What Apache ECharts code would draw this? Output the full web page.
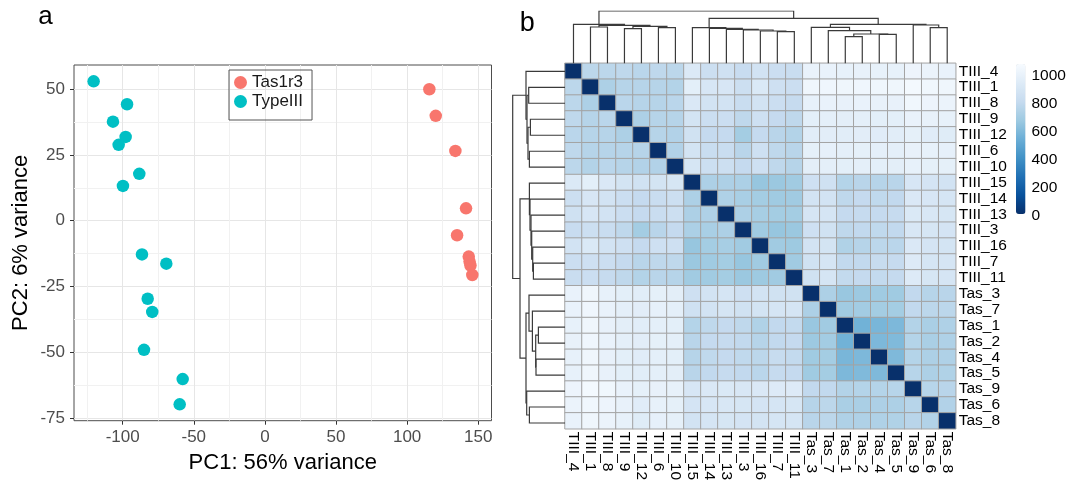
<!DOCTYPE html>
<html>
<head>
<meta charset="utf-8">
<script src="https://cdn.jsdelivr.net/npm/echarts@6/dist/echarts.min.js"></script>
<style>
    html, body { margin: 0; padding: 0; background: #fff; }
    #main { width: 1081px; height: 483px; }
</style>
</head>
<body>
<div id="main"></div>
<script>
    // ---- 数据 ----
    // PCA 散点 (PC1, PC2)
    const tasX = [115.6, 120.1, 133.9, 141.4, 135.1, 143.3, 143.9, 144.5, 145.8];
    const tasY = [49.9, 39.8, 26.5, 4.7, -5.5, -13.6, -15.5, -17.0, -20.6];
    const typeX = [-120.4, -96.9, -106.8, -97.9, -102.8, -88.3, -99.8, -86.4, -69.3, -82.4, -79.2, -85.0, -57.8, -59.9];
    const typeY = [52.9, 44.2, 37.6, 31.8, 28.8, 17.8, 13.2, -12.8, -16.3, -29.6, -34.6, -49.0, -60.1, -69.7];

    // 坐标轴刻度
    const pcaXTicks = [-100, -50, 0, 50, 100, 150];
    const pcaXMinor = [-125, -75, -25, 25, 75, 125];
    const pcaYTicks = [-75, -50, -25, 0, 25, 50];
    const pcaYMinor = [-62.5, -37.5, -12.5, 12.5, 37.5];

    // 热图样本(聚类后顺序)
    const samples = ['TIII_4', 'TIII_1', 'TIII_8', 'TIII_9', 'TIII_12', 'TIII_6', 'TIII_10',
        'TIII_15', 'TIII_14', 'TIII_13', 'TIII_3', 'TIII_16', 'TIII_7', 'TIII_11',
        'Tas_3', 'Tas_7', 'Tas_1', 'Tas_2', 'Tas_4', 'Tas_5', 'Tas_9', 'Tas_6', 'Tas_8'];

    // 距离矩阵下三角 (第 i 行: 与第 0..i-1 列的距离), 对角线为 0
    const distLower = [
        [],
        [780],
        [780, 730],
        [790, 760, 775],
        [775, 760, 760, 730],
        [790, 760, 760, 760, 760],
        [780, 750, 775, 760, 745, 745],
        [935, 980, 925, 890, 870, 890, 905],
        [850, 910, 880, 840, 810, 830, 850, 730],
        [865, 910, 880, 840, 810, 830, 850, 730, 735],
        [825, 850, 830, 790, 700, 770, 810, 725, 715, 730],
        [880, 930, 880, 860, 810, 860, 860, 660, 700, 710, 690],
        [840, 860, 840, 810, 770, 790, 790, 670, 685, 700, 660, 690],
        [830, 840, 815, 790, 750, 770, 760, 690, 690, 700, 670, 680, 690],
        [1010, 1040, 1000, 980, 965, 990, 975, 860, 880, 900, 860, 880, 870, 870],
        [1010, 1045, 1010, 985, 970, 995, 985, 865, 880, 900, 870, 890, 900, 900, 730],
        [1000, 1040, 1005, 975, 965, 985, 980, 755, 790, 810, 790, 740, 800, 805, 665, 690],
        [1005, 1045, 1010, 985, 970, 990, 985, 770, 810, 815, 800, 760, 800, 810, 675, 695, 560],
        [1000, 1040, 1005, 980, 960, 985, 980, 760, 795, 810, 795, 780, 820, 805, 685, 700, 580, 590],
        [1000, 1040, 1005, 980, 965, 985, 975, 770, 800, 815, 800, 775, 815, 810, 685, 700, 590, 600, 595],
        [1030, 1065, 1050, 1010, 990, 1005, 1000, 910, 925, 930, 915, 925, 945, 945, 800, 800, 750, 755, 755, 765],
        [1020, 1050, 1030, 1005, 960, 1000, 990, 895, 910, 915, 905, 895, 900, 905, 760, 780, 720, 720, 730, 730, 765],
        [1010, 1040, 1020, 1000, 955, 995, 990, 885, 900, 905, 895, 890, 900, 900, 770, 780, 735, 735, 735, 740, 770, 745]
    ];

    // 层次聚类 (hclust 格式: 负数=叶子序号, 正数=之前的合并步)
    const mergeA = [-17, -19, 1, -13, -12, -16, -11, -10, -4, -9, -6, -22, -8, -15, -2, 9, 15, -21, -1, 14, 13, 19];
    const mergeB = [-18, -20, 2, -14, 4, 3, 5, 7, -5, 8, -7, -23, 10, 6, -3, 11, 16, 12, 17, 18, 20, 21];
    const mergeH = [26.6, 29.0, 29.3, 31.6, 32.3, 32.6, 33.3, 34.0, 34.6, 35.0, 35.6, 35.6, 35.6, 36.0, 36.3, 37.0, 38.0, 38.3, 39.0, 39.0, 45.0, 52.3];

    // 图例刻度
    const legendMax = 1086;
    const legendStep = 200;

    // ---- 处理 ----
    const font = 'Liberation Sans';
    const blues = ['#08306B', '#08519C', '#2171B5', '#4292C6', '#6BAED6', '#9ECAE1', '#C6DBEF', '#DEEBF7', '#F7FBFF'];

    let heatData = [];
    for (let i = 0; i < samples.length; i++) {
        for (let j = 0; j < samples.length; j++) {
            let v;
            if (i === j) v = 0;
            else if (j < i) v = distLower[i][j];
            else v = distLower[j][i];
            heatData.push([j, i, v]);
        }
    }

    //树状图线段
    function dendroSegs(flip) {
        let pos = [], hgt = [], segs = [];
        const nPos = k => k < 0 ? (-k - 1) + 0.5 : pos[k - 1];
        const nH = k => k < 0 ? 0 : hgt[k - 1];
        for (let i = 0; i < mergeH.length; i++) {
            const a = mergeA[i], b = mergeB[i], h = mergeH[i];
            const xa = nPos(a), xb = nPos(b);
            let pts = [[xa, nH(a)], [xa, h], [xb, h], [xb, nH(b)]];
            if (flip) pts = pts.map(p => [p[1], p[0]]);
            segs.push({coords: pts});
            pos.push((xa + xb) / 2);
            hgt.push(h);
        }
        return segs;
    }
    const treeTop = mergeH[mergeH.length - 1];

    const tickLabel = {color: '#4d4d4d', fontSize: 17, fontFamily: font};
    const noLine = {show: false, onZero: false};

    let myChart = echarts.init(document.getElementById('main'));
    let option = {
        animation: false,
        graphic: [
            {type: 'text', x: 45.5, y: 17.2, style: {text: 'a', fontSize: 26, fontFamily: font, fill: '#000', align: 'center', verticalAlign: 'middle'}},
            {type: 'text', x: 527.3, y: 23.6, style: {text: 'b', fontSize: 27, fontFamily: font, fill: '#000', align: 'center', verticalAlign: 'middle'}}
        ],
        legend: {
            data: ['Tas1r3', 'TypeIII'],
            orient: 'vertical',
            left: 229, top: 70,
            icon: 'circle', itemWidth: 13, itemHeight: 13, itemGap: 2,
            padding: [4, 9, 10, 5],
            borderColor: '#555', borderWidth: 1,
            selectedMode: false,
            textStyle: {fontSize: 17, fontFamily: font, color: '#1a1a1a'}
        },
        grid: [
            {left: 74, top: 65, width: 417.5, height: 355.7, show: true, borderColor: '#4d4d4d', borderWidth: 1},
            {left: 565, top: 63.3, width: 390.7, height: 367.7},
            {left: 565, top: 11, width: 390.7, height: 52.3},
            {left: 512.7, top: 63.3, width: 52.3, height: 367.7},
            {left: 1016, top: 64, width: 9.5, height: 152}
        ],
        xAxis: [
            {
                gridIndex: 0, type: 'value', min: -134.2, max: 159.3,
                name: 'PC1: 56% variance', nameLocation: 'middle', nameGap: 31,
                nameTextStyle: {fontSize: 22, fontFamily: font, color: '#000'},
                axisLine: noLine,
                axisTick: {show: true, length: 4, lineStyle: {color: '#333'}, customValues: pcaXTicks},
                axisLabel: Object.assign({margin: 8, customValues: pcaXTicks}, tickLabel),
                splitLine: {show: true, lineStyle: {color: '#e6e6e6', width: 1}}
            },
            {
                gridIndex: 0, type: 'value', min: -134.2, max: 159.3, position: 'bottom',
                axisLine: noLine, axisLabel: {show: false},
                axisTick: {show: false, customValues: pcaXMinor},
                splitLine: {show: true, lineStyle: {color: '#f1f1f1', width: 1}}
            },
            {
                gridIndex: 1, type: 'category', data: samples, position: 'bottom',
                axisLine: noLine, axisTick: {show: false}, splitLine: {show: false},
                axisLabel: {interval: 0, rotate: -90, margin: 3, fontSize: 15.5, fontFamily: font, color: '#000'}
            },
            {gridIndex: 2, type: 'value', min: 0, max: samples.length, show: false},
            {gridIndex: 3, type: 'value', min: 0, max: treeTop, inverse: true, show: false},
            {gridIndex: 4, type: 'value', min: 0, max: 1, show: false}
        ],
        yAxis: [
            {
                gridIndex: 0, type: 'value', min: -75.9, max: 59.1,
                name: 'PC2: 6% variance', nameLocation: 'middle', nameGap: 42,
                nameTextStyle: {fontSize: 22, fontFamily: font, color: '#000'},
                axisLine: noLine,
                axisTick: {show: true, length: 4, lineStyle: {color: '#333'}, customValues: pcaYTicks},
                axisLabel: Object.assign({margin: 9, customValues: pcaYTicks}, tickLabel),
                splitLine: {show: true, lineStyle: {color: '#e6e6e6', width: 1}}
            },
            {
                gridIndex: 0, type: 'value', min: -75.9, max: 59.1, position: 'left',
                axisLine: noLine, axisLabel: {show: false},
                axisTick: {show: false, customValues: pcaYMinor},
                splitLine: {show: true, lineStyle: {color: '#f1f1f1', width: 1}}
            },
            {
                gridIndex: 1, type: 'category', data: samples, position: 'right', inverse: true,
                axisLine: noLine, axisTick: {show: false}, splitLine: {show: false},
                axisLabel: {interval: 0, margin: 3, fontSize: 15.5, fontFamily: font, color: '#000'}
            },
            {gridIndex: 2, type: 'value', min: 0, max: treeTop, show: false},
            {gridIndex: 3, type: 'value', min: 0, max: samples.length, inverse: true, show: false},
            {
                gridIndex: 4, type: 'value', min: 0, max: legendMax, interval: legendStep, position: 'right',
                axisLine: noLine, axisTick: {show: false}, splitLine: {show: false},
                axisLabel: {margin: 6, showMaxLabel: false, fontSize: 15.5, fontFamily: font, color: '#000',
                    formatter: v => String(v)}
            }
        ],
        visualMap: {
            type: 'continuous', seriesIndex: 2, min: 0, max: legendMax,
            calculable: false, hoverLink: false, orient: 'vertical',
            left: 1016, top: 64, itemWidth: 9.5, itemHeight: 150, padding: 0,
            inRange: {color: blues}
        },
        series: [
            {
                name: 'Tas1r3', type: 'scatter', xAxisIndex: 0, yAxisIndex: 0,
                symbolSize: 12.5, itemStyle: {color: '#F8766D', opacity: 1},
                data: tasX.map((x, i) => [x, tasY[i]])
            },
            {
                name: 'TypeIII', type: 'scatter', xAxisIndex: 0, yAxisIndex: 0,
                symbolSize: 12.5, itemStyle: {color: '#00BFC4', opacity: 1},
                data: typeX.map((x, i) => [x, typeY[i]])
            },
            {
                type: 'heatmap', xAxisIndex: 2, yAxisIndex: 2, data: heatData, silent: true,
                itemStyle: {borderColor: '#a3a3a3', borderWidth: 1},
                emphasis: {disabled: true}
            },
            {
                type: 'lines', coordinateSystem: 'cartesian2d', xAxisIndex: 3, yAxisIndex: 3,
                polyline: true, silent: true, data: dendroSegs(false),
                lineStyle: {color: '#3a3a3a', width: 1.2, opacity: 1}
            },
            {
                type: 'lines', coordinateSystem: 'cartesian2d', xAxisIndex: 4, yAxisIndex: 4,
                polyline: true, silent: true, data: dendroSegs(true),
                lineStyle: {color: '#3a3a3a', width: 1.2, opacity: 1}
            }
        ]
    };
    myChart.setOption(option);
</script>
</body>
</html>
